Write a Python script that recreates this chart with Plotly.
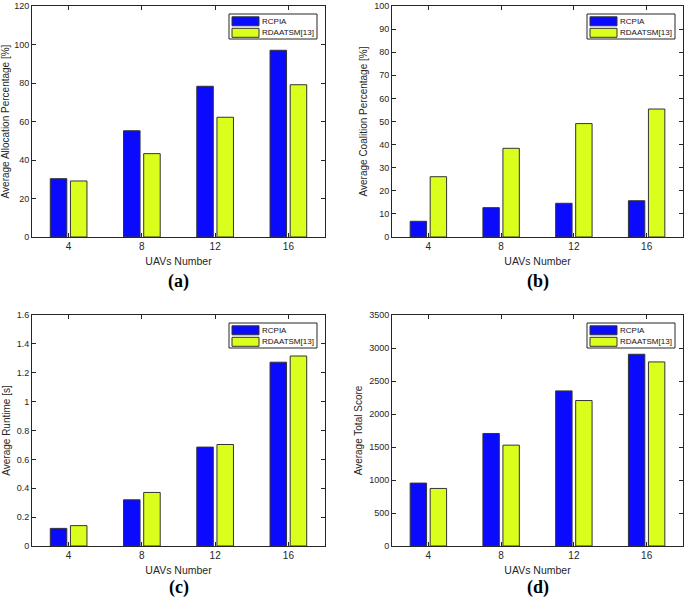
import plotly.graph_objects as go

categories = ["4", "8", "12", "16"]
series_names = ["RCPIA", "RDAATSM[13]"]

alloc_rcpia = [30.3, 55.2, 78.3, 97.0]
alloc_rdaatsm = [29.1, 43.3, 62.2, 79.1]

coal_rcpia = [6.8, 12.7, 14.6, 15.7]
coal_rdaatsm = [26.1, 38.4, 49.1, 55.4]

runtime_rcpia = [0.122, 0.32, 0.685, 1.273]
runtime_rdaatsm = [0.141, 0.371, 0.703, 1.316]

score_rcpia = [953, 1705, 2350, 2905]
score_rdaatsm = [872, 1528, 2204, 2789]

y_titles = ["Average Allocation Percentage [%]", "Average Coalition Percentage [%]",
            "Average Runtime [s]", "Average Total Score"]
y_ranges = [[0, 120], [0, 100], [0, 1.6], [0, 3500]]
y_dticks = [20, 10, 0.2, 500]
captions = ["(a)", "(b)", "(c)", "(d)"]
x_title = "UAVs Number"

panels = [(alloc_rcpia, alloc_rdaatsm), (coal_rcpia, coal_rdaatsm),
          (runtime_rcpia, runtime_rdaatsm), (score_rcpia, score_rdaatsm)]

W, H = 685, 601
# plot-area pixel boxes: (left, right, top, bottom)
boxes = [(32, 325, 6, 237), (392, 683, 6, 237), (32, 325, 315, 546), (392, 683, 315, 546)]
caption_y = [281, 281, 587, 587]

BLUE = "#0A0AFF"
YELLOW = "#DAFF1C"
EDGE = "#333333"
AXC = "#262626"
FONT = "Liberation Sans, Arial, sans-serif"
SERIF = "Liberation Serif, Times New Roman, serif"
colors = [BLUE, YELLOW]


def px(x):
    return x / W


def py(y):
    return 1 - y / H


fig = go.Figure()
layout = dict(
    width=W, height=H, margin=dict(l=0, r=0, t=0, b=0),
    paper_bgcolor="white", plot_bgcolor="white",
    barmode="group", bargap=0.45, bargroupgap=0.18,
    font=dict(family=FONT, size=9, color=AXC),
    showlegend=False,
    annotations=[], shapes=[],
)

for i, ((a, b), box) in enumerate(zip(panels, boxes)):
    n = i + 1
    xa = "x" if n == 1 else f"x{n}"
    ya = "y" if n == 1 else f"y{n}"
    for vals, name, col in [(a, series_names[0], BLUE), (b, series_names[1], YELLOW)]:
        fig.add_trace(go.Bar(
            x=categories, y=vals, name=name, xaxis=xa, yaxis=ya,
            marker=dict(color=col, line=dict(color=EDGE, width=1)),
        ))
    l, r, t, bt = box
    xkey = "xaxis" if n == 1 else f"xaxis{n}"
    ykey = "yaxis" if n == 1 else f"yaxis{n}"
    layout[xkey] = dict(
        domain=[px(l), px(r)], anchor=ya, type="category", range=[-0.5, 3.5],
        showline=True, linecolor=AXC, linewidth=1, mirror="ticks",
        ticks="inside", ticklen=4, tickcolor=AXC, showgrid=False,
        tickfont=dict(size=10, family=FONT, color=AXC),
        title=dict(text=x_title, font=dict(size=10.5, family=FONT, color=AXC), standoff=6),
        automargin=False, fixedrange=True,
    )
    layout[ykey] = dict(
        domain=[py(bt), py(t)], anchor=xa, range=y_ranges[i], dtick=y_dticks[i], tick0=0,
        showline=True, linecolor=AXC, linewidth=1, mirror="ticks",
        ticks="inside", ticklen=4, tickcolor=AXC, showgrid=False, zeroline=False,
        tickfont=dict(size=9, family=FONT, color=AXC),
        title=dict(text=y_titles[i], font=dict(size=10, family=FONT, color=AXC), standoff=4),
        automargin=False, fixedrange=True,
    )
    # legend box (drawn as a MATLAB-style legend)
    lr = r - 8
    ll = lr - 88
    lt = t + 8
    lb = lt + 25
    layout["shapes"].append(dict(
        type="rect", xref="paper", yref="paper", x0=px(ll), x1=px(lr), y0=py(lb), y1=py(lt),
        line=dict(color=AXC, width=1), fillcolor="white", layer="above",
    ))
    for k in range(2):
        cy = lt + 7.3 + k * 11.5
        layout["shapes"].append(dict(
            type="rect", xref="paper", yref="paper",
            x0=px(ll + 3), x1=px(ll + 30), y0=py(cy + 4.5), y1=py(cy - 4.5),
            line=dict(color=EDGE, width=1), fillcolor=colors[k], layer="above",
        ))
        layout["annotations"].append(dict(
            text=series_names[k], xref="paper", yref="paper",
            x=px(ll + 31), y=py(cy), xanchor="left", yanchor="middle",
            showarrow=False, font=dict(family=FONT, size=8, color="#111111"),
        ))
    layout["annotations"].append(dict(
        text=f"<b>{captions[i]}</b>", xref="paper", yref="paper",
        x=px((l + r) / 2), y=py(caption_y[i]), xanchor="center", yanchor="middle",
        showarrow=False, font=dict(family=SERIF, size=18, color="black"),
    ))

fig.update_layout(**layout)
fig.write_html("out.html", config={"displayModeBar": False},
               post_script="document.body.style.margin='0';document.body.style.padding='0';")
